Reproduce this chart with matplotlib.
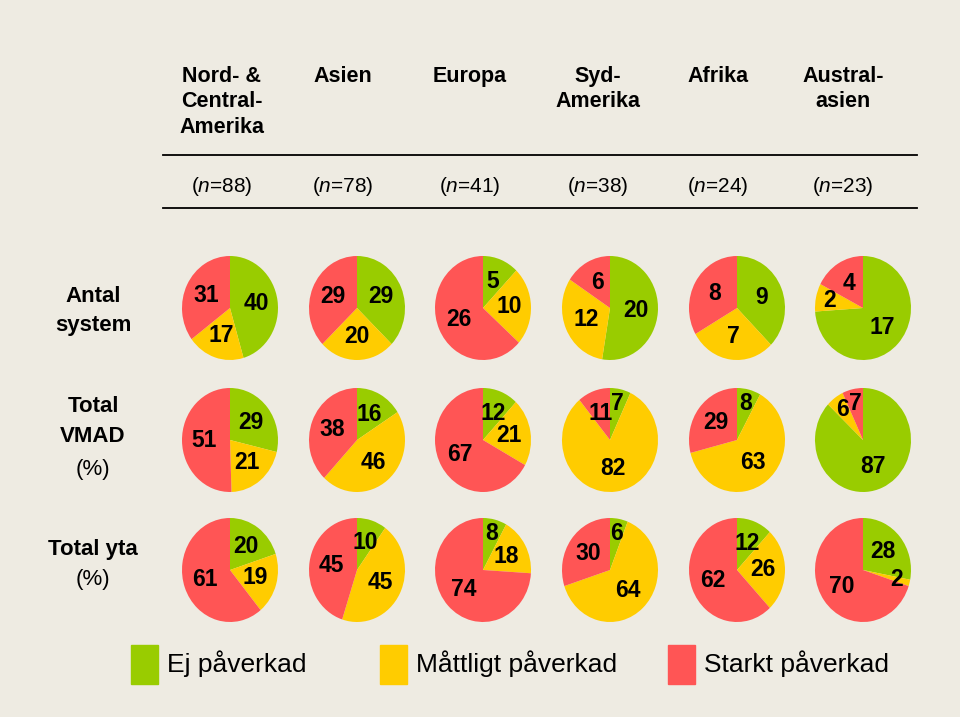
import matplotlib
matplotlib.use('Agg')
import matplotlib.pyplot as plt

plt.rcParams['font.family'] = ['Liberation Sans', 'DejaVu Sans']
plt.rcParams['mathtext.fontset'] = 'custom'
plt.rcParams['mathtext.it'] = 'Liberation Sans:italic'
plt.rcParams['mathtext.rm'] = 'Liberation Sans'

# data: each pie is [Ej påverkad, Måttligt påverkad, Starkt påverkad]
regions = ['Nord- &\nCentral-\nAmerika', 'Asien', 'Europa', 'Syd-\nAmerika', 'Afrika', 'Austral-\nasien']
n_values = [88, 78, 41, 38, 24, 23]
antal_system = [[40, 17, 31], [29, 20, 29], [5, 10, 26], [20, 12, 6], [9, 7, 8], [17, 2, 4]]
total_vmad = [[29, 21, 51], [16, 46, 38], [12, 21, 67], [7, 82, 11], [8, 63, 29], [87, 6, 7]]
total_yta = [[20, 19, 61], [10, 45, 45], [8, 18, 74], [6, 64, 30], [12, 26, 62], [28, 2, 70]]
legend_labels = ['Ej påverkad', 'Måttligt påverkad', 'Starkt påverkad']
colors = ['#99CC00', '#FFCC00', '#FF5555']
bg = '#EEEBE2'

W, H = 960, 717
fig = plt.figure(figsize=(9.6, 7.17), dpi=100, facecolor=bg)

def px(x, y):
    return x / W, 1 - y / H

col_x = [230, 357, 483, 610, 737, 863]
head_x = [222, 343, 470, 598, 718, 843]
row_y = [308, 440, 570]
rx, ry = 48, 52

rows = [antal_system, total_vmad, total_yta]
for r, data in enumerate(rows):
    for c, vals in enumerate(data):
        ax = fig.add_axes([(col_x[c] - rx) / W, 1 - (row_y[r] + ry) / H, 2 * rx / W, 2 * ry / H])
        wedges, texts = ax.pie(vals, colors=colors, startangle=90, counterclock=False,
                               labels=[str(v) for v in vals], labeldistance=0.55,
                               textprops={'fontsize': 16.5, 'fontweight': 'bold',
                                          'ha': 'center', 'va': 'center'},
                               wedgeprops={'linewidth': 0})
        # small slices get their number pushed out towards the rim
        total = sum(vals)
        for t, v in zip(texts, vals):
            if v / total < 0.1:
                x, y = t.get_position()
                t.set_position((x * 1.3, y * 1.3))
        ax.set_aspect('auto')
        ax.set_xlim(-1, 1)
        ax.set_ylim(-1, 1)
        ax.axis('off')

# header
for c, name in enumerate(regions):
    x, y = px(head_x[c], 66)
    fig.text(x, y, name, ha='center', va='top', fontsize=15.5, fontweight='bold',
             linespacing=1.28)
    x, y = px(head_x[c], 187)
    fig.text(x, y, '(' + r'$\it{n}$' + f'={n_values[c]})', ha='center', va='center',
             fontsize=15)

for yy in [155, 208]:
    fig.add_artist(plt.Line2D([163 / W, 917 / W], [1 - yy / H, 1 - yy / H], color='black', lw=1.3))

# row labels
def lab(x, y, s, bold=True):
    fx, fy = px(x, y)
    fig.text(fx, fy, s, ha='center', va='center', fontsize=16,
             fontweight='bold' if bold else 'normal')

lab(93, 297, 'Antal')
lab(93, 326, 'system')
lab(93, 407, 'Total')
lab(93, 437, 'VMAD')
lab(93, 470, '(%)', bold=False)
lab(93, 550, 'Total yta')
lab(93, 580, '(%)', bold=False)

# legend
leg_x = [131, 380, 668]
for i, lbl in enumerate(legend_labels):
    fig.add_artist(plt.Rectangle((leg_x[i] / W, 1 - 684 / H), 27 / W, 39 / H,
                                 color=colors[i], transform=fig.transFigure))
    x, y = px(leg_x[i] + 36, 664)
    fig.text(x, y, lbl, ha='left', va='center', fontsize=19)

plt.savefig('out.png', dpi=100, facecolor=bg)
